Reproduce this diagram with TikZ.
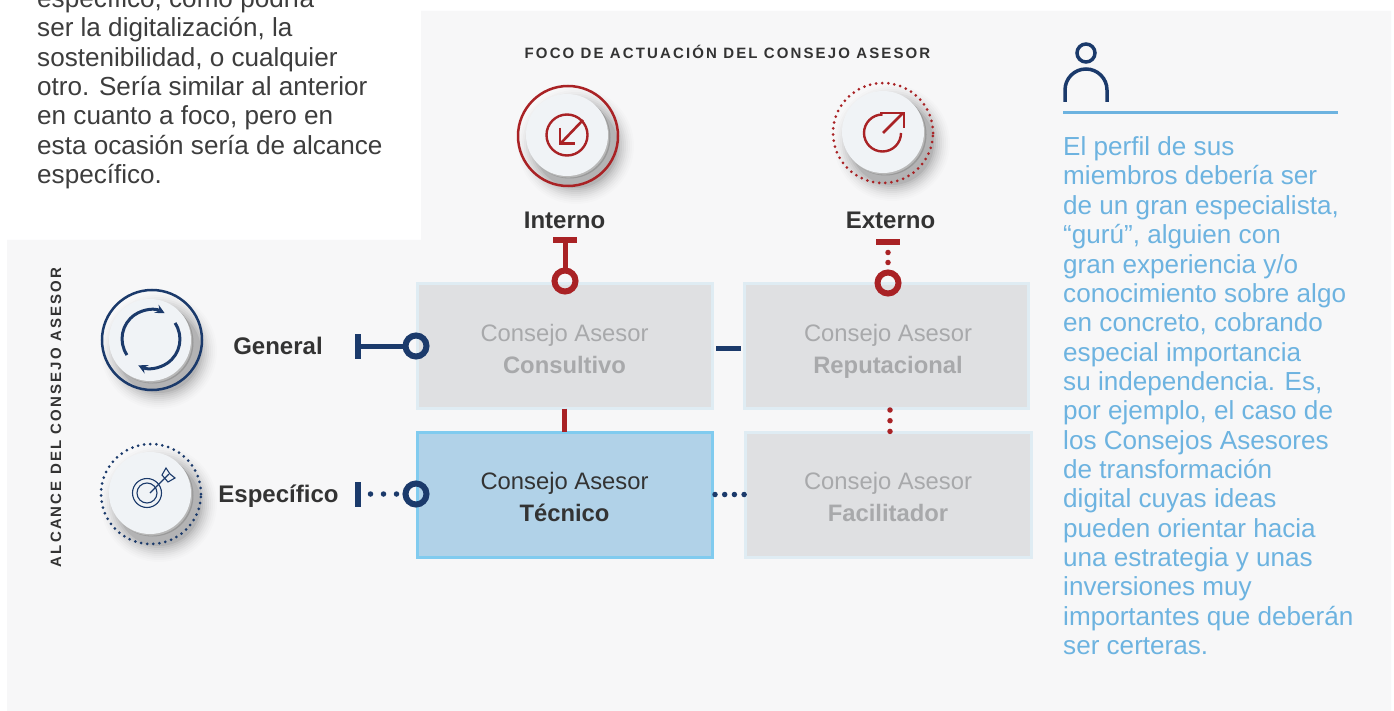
\documentclass[tikz,border=0pt]{standalone}
\usepackage{fontspec}
\setmainfont{Liberation Sans}
\newfontfamily\spacedfont[LetterSpace=14.2]{Liberation Sans}
\usepackage{tikz}
\definecolor{panel}{HTML}{F7F7F8}
\definecolor{navy}{HTML}{1B3A6B}
\definecolor{wine}{HTML}{A92225}
\definecolor{sky}{HTML}{6DB3E0}
\definecolor{ink}{HTML}{333333}
\definecolor{muted}{HTML}{A8A9AB}
\definecolor{boxedge}{HTML}{DFECF3}
\definecolor{boxfill}{HTML}{DFE0E2}
\definecolor{activeedge}{HTML}{80CBEF}
\definecolor{activefill}{HTML}{B1D2E8}
\definecolor{disc}{HTML}{F0F3F6}
\tikzstyle{box} = [draw=boxedge,fill=boxfill,line width=3pt,minimum height=125pt,inner sep=0pt,outer sep=0pt,align=center,text=muted,font=\fontsize{23.8}{32}\selectfont]
\tikzstyle{axis} = [font=\bfseries\fontsize{24}{28}\selectfont,text=ink,inner sep=0pt,text depth=0pt]
\tikzstyle{heading} = [font=\spacedfont\bfseries\fontsize{15}{18}\selectfont,text=ink,inner sep=0pt]
\tikzstyle{body} = [align=left,anchor=north west,inner sep=0pt,font=\fontsize{26.1}{29.35}\selectfont]
\tikzstyle{ring} = [circle,minimum size=100pt,inner sep=0pt,outer sep=0pt,line width=2.5pt]
\tikzstyle{dotring} = [ring,dash pattern=on 0pt off 6.1pt,line cap=round,line width=3pt]
\tikzstyle{stop} = [circle,draw,line width=6pt,minimum size=21pt,inner sep=0pt,outer sep=0pt]
\tikzstyle{hbar} = [fill,minimum width=24pt,minimum height=6pt,inner sep=0pt,outer sep=0pt]
\tikzstyle{vbar} = [fill,minimum width=6pt,minimum height=25pt,inner sep=0pt,outer sep=0pt]
\tikzstyle{solid link} = [line width=5pt]
\tikzstyle{dot link} = [line width=5.5pt,line cap=round,dash pattern=on 0pt off 10pt]
% raised disc under each icon
\newcommand{\button}[2]{
  \foreach \r/\op in {58/.012,56/.015,54/.02,52/.025,50/.03,48/.035,46/.04,44/.05,42/.07}
    \fill[black,opacity=\op] (#1+9,#2+11) circle (\r);
  \fill[black!40] (#1+2.5,#2+2.5) circle (41);
  \fill[white!72!black] (#1+1.2,#2+1.6) circle (41);
  \fill[disc] (#1,#2) circle (41);
}
% two lines of a quadrant
\newcommand{\counsel}[1]{\rule{0pt}{28pt}Consejo Asesor\\\textbf{#1}\rule[-5.4pt]{0pt}{5.4pt}}
\begin{document}
\begin{tikzpicture}[x=1pt,y=-1pt]
  \useasboundingbox (0,0) rectangle (1394,711);
  \fill[white] (0,0) rectangle (1394,711);
  \fill[panel] (421,11) -- (1391,11) -- (1391,711) -- (7,711) -- (7,240) -- (421,240) -- cycle;

  \node[body,text=ink!95] (intro) at (37,-12) {espec\'ifico, como podr\'ia\\ser la digitalizaci\'on, la\\sostenibilidad, o cualquier\\otro. Ser\'ia similar al anterior\\en cuanto a foco, pero en\\esta ocasi\'on ser\'ia de alcance\\espec\'ifico.};
  \node[heading] (foco) at (727.5,52) {FOCO DE ACTUACI\'ON DEL CONSEJO ASESOR};
  \node[heading,rotate=90] (alcance) at (56,417.5) {ALCANCE DEL CONSEJO ASESOR};

  % buttons
  \button{567}{135}
  \button{883}{132}
  \button{150}{340}
  \button{150}{493}
  \node[ring,draw=wine] (interno ring) at (568,136) {};
  \node[ring,draw=wine,dotring] (externo ring) at (883,133) {};
  \node[ring,draw=navy] (general ring) at (152,340) {};
  \node[ring,draw=navy,dotring] (especifico ring) at (151,494) {};

  % icons
  \draw[wine,line width=2.4pt] (567,135) circle (20.5);
  \draw[wine,line width=2.6pt] (583,120) -- (561,143);
  \draw[wine,line width=2.6pt] (560,128) -- (560,143.5) -- (575,143.5);
  \draw[wine,line width=2.4pt] (901,133) arc (0:270:18.5);
  \draw[wine,line width=2.6pt] (883,133) -- (903,113);
  \draw[wine,line width=2.6pt] (880,113) -- (904,113) -- (904,128);
  \draw[navy,line width=3pt,->,>=stealth] (127,355) arc (-214:-62:29);
  \draw[navy,line width=3pt,->,>=stealth] (175,323) arc (-34:116:29);
  \draw[navy,line width=1.1pt] (147,493) circle (14.5);
  \draw[navy,line width=1.1pt] (147,493) circle (10);
  \draw[navy,line width=1.1pt] (150,493) -- (169,474);
  \draw[navy,line width=1.1pt] (162,475) -- (166,468) -- (170,474) -- (175,478) -- (168,482) -- cycle;
  \draw[navy,line width=3.5pt] (1086,53) circle (9);
  \draw[navy,line width=3.5pt] (1065,102) -- (1065,90) arc (180:360:21) -- (1107,102);
  \draw[sky,line width=3pt] (1063,113) -- (1338,113);

  % boxes
  \node[box,minimum width=295pt] (consultivo) at (564.5,346) {\counsel{Consultivo}};
  \node[box,minimum width=284pt] (reputacional) at (886,346) {\hspace*{4pt}\counsel{\hspace*{4pt}Reputacional}};
  \node[box,minimum width=295pt,draw=activeedge,fill=activefill,text=ink] (tecnico) at (564.5,494.5) {\counsel{T\'ecnico}};
  \node[box,minimum width=286pt] (facilitador) at (888,494.5) {\counsel{Facilitador}};

  \node[axis] (interno) at (564.5,220) {Interno};
  \node[axis] (externo) at (890.5,220) {Externo};
  \node[axis] (general) at (278,346) {General};
  \node[axis] (especifico) at (278.5,494) {Espec\'ifico};

  % ends of the four axes
  \node[hbar,wine] (interno bar) at (565,240) {};
  \node[stop,draw=wine] (interno stop) at (565,281) {};
  \node[hbar,wine] (externo bar) at (888,242) {};
  \node[stop,draw=wine] (externo stop) at (888,283) {};
  \node[vbar,navy] (general bar) at (358,346) {};
  \node[stop,draw=navy] (general stop) at (416,346) {};
  \node[vbar,navy] (especifico bar) at (358,494) {};
  \node[stop,draw=navy] (especifico stop) at (416,494) {};

  \draw[solid link,wine] (interno bar) -- (interno stop);
  \draw[dot link,wine,shorten <=7.5pt] (externo bar) -- (externo stop);
  \draw[solid link,navy] (general bar) -- (general stop);
  \draw[dot link,navy,dash pattern=on 0pt off 13pt,shorten <=9.5pt] (especifico bar) -- (especifico stop);

  \draw[solid link,navy,shorten <=4pt,shorten >=3pt] ([yshift=-2pt]consultivo.east) -- ([yshift=-2pt]reputacional.west);
  \draw[solid link,wine] (consultivo.south) -- (tecnico.north);
  \draw[dot link,wine,dash pattern=on 0pt off 10.7pt,shorten <=1.5pt] ([xshift=4pt]reputacional.south) -- ([xshift=2pt]facilitador.north);
  \draw[dot link,navy,dash pattern=on 0pt off 9.7pt,shorten <=3pt] (tecnico.east) -- (facilitador.west);

  \node[body,text=sky] (perfil) at (1063,136.5) {El perfil de sus\\miembros deber\'ia ser\\de un gran especialista,\\``gur\'u'', alguien con\\gran experiencia y/o\\conocimiento sobre algo\\en concreto, cobrando\\especial importancia\\su independencia. Es,\\por ejemplo, el caso de\\los Consejos Asesores\\de transformaci\'on\\digital cuyas ideas\\pueden orientar hacia\\una estrategia y unas\\inversiones muy\\importantes que deber\'an\\ser certeras.};
\end{tikzpicture}
\end{document}
